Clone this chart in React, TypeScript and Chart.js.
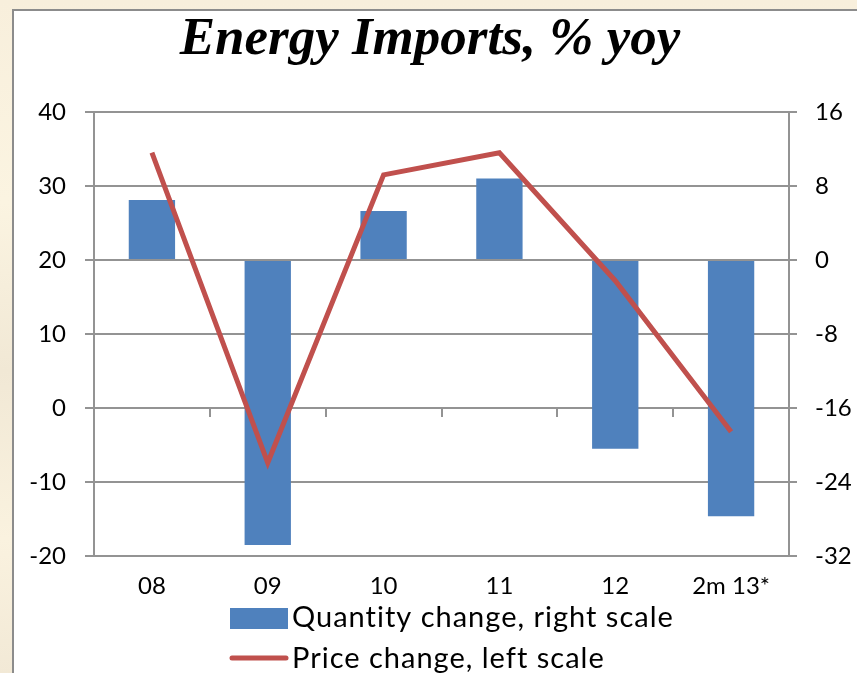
import React, { useEffect, useRef } from "react";
import { Chart, registerables } from "chart.js";

Chart.register(...registerables);

// ---- data ----
const categories = ["08", "09", "10", "11", "12", "2m 13*"];
const quantityChange = [6.5, -30.8, 5.3, 8.8, -20.4, -27.7]; // right scale
const priceChange = [34.5, -7.4, 31.5, 34.5, 17.2, -3.2]; // left scale
const leftTicks = [-20, -10, 0, 10, 20, 30, 40];
const rightTicks = [-32, -24, -16, -8, 0, 8, 16];
const titleText = "Energy Imports, % yoy";
const quantityLabel = "Quantity change, right scale";
const priceLabel = "Price change, left scale";

const BAR_COLOR = "#4F81BD";
const LINE_COLOR = "#C0504D";
const GRID_COLOR = "#939393";
const TICK_FONT = { family: "Lato, 'Open Sans', sans-serif", size: 24 };

const backgroundPlugin = {
  id: "bgPanel",
  beforeDraw(chart: any) {
    const ctx = chart.ctx;
    const w = chart.width;
    const h = chart.height;
    ctx.save();
    const g = ctx.createLinearGradient(0, 0, 0, h);
    g.addColorStop(0, "#F8EFDC");
    g.addColorStop(0.3, "#FBF4E1");
    g.addColorStop(0.55, "#F1E8D5");
    g.addColorStop(0.8, "#FAF2DF");
    g.addColorStop(1, "#F2E9D6");
    ctx.fillStyle = g;
    ctx.fillRect(0, 0, w, h);
    ctx.fillStyle = "#FFFFFF";
    ctx.fillRect(13, 10, w + 20, h + 20);
    ctx.strokeStyle = "#8C8C8C";
    ctx.lineWidth = 2;
    ctx.strokeRect(13, 10, w + 20, h + 20);
    ctx.restore();
  },
};

const zeroTicksPlugin = {
  id: "zeroTicks",
  afterDatasetsDraw(chart: any) {
    const x = chart.scales.x;
    const y = chart.scales.y;
    const ctx = chart.ctx;
    const y0 = y.getPixelForValue(0);
    ctx.save();
    ctx.strokeStyle = GRID_COLOR;
    ctx.lineWidth = 2;
    for (let i = 0; i <= categories.length; i++) {
      const px = Math.round(x.getPixelForValue(i - 0.5));
      ctx.beginPath();
      ctx.moveTo(px, y0);
      ctx.lineTo(px, y0 + 9);
      ctx.stroke();
    }
    ctx.restore();
  },
};

const legendPlugin = {
  id: "customLegend",
  afterDraw(chart: any) {
    const ctx = chart.ctx;
    const ds = chart.data.datasets;
    ctx.save();
    ctx.font = "29px Lato, 'Open Sans', sans-serif";
    try {
      (ctx as any).letterSpacing = "1px";
    } catch (e) {}
    ctx.fillStyle = "#000";
    ctx.textAlign = "left";
    ctx.textBaseline = "alphabetic";
    // bar entry
    ctx.fillStyle = ds[0].backgroundColor;
    ctx.fillRect(230, 608, 58, 21);
    ctx.fillStyle = "#000";
    ctx.fillText(ds[0].label, 292, 627);
    // line entry
    ctx.strokeStyle = ds[1].borderColor;
    ctx.lineWidth = 5;
    ctx.lineCap = "round";
    ctx.beginPath();
    ctx.moveTo(232, 658);
    ctx.lineTo(286, 658);
    ctx.stroke();
    ctx.fillText(ds[1].label, 292, 668);
    ctx.restore();
  },
};

export default function App() {
  const ref = useRef<HTMLCanvasElement | null>(null);

  useEffect(() => {
    if (!ref.current) return;
    const chart = new Chart(ref.current, {
      data: {
        labels: categories,
        datasets: [
          {
            type: "bar",
            label: quantityLabel,
            data: quantityChange,
            backgroundColor: BAR_COLOR,
            borderWidth: 0,
            yAxisID: "y1",
            barPercentage: 0.4,
            categoryPercentage: 1,
            order: 2,
          },
          {
            type: "line",
            label: priceLabel,
            data: priceChange,
            borderColor: LINE_COLOR,
            backgroundColor: LINE_COLOR,
            borderWidth: 5,
            pointRadius: 0,
            tension: 0,
            yAxisID: "y",
            order: 1,
          },
        ],
      } as any,
      options: {
        animation: false,
        responsive: false,
        layout: { padding: { left: 3, right: 0, top: 8, bottom: 0 } },
        plugins: {
          legend: { display: false },
          tooltip: { enabled: false },
          title: {
            display: true,
            text: titleText,
            color: "#000",
            font: {
              family: "'Liberation Serif', 'Times New Roman', serif",
              size: 53,
              style: "italic",
              weight: "bold",
              lineHeight: 1,
            },
            padding: { top: 6, bottom: 45 },
          },
        },
        scales: {
          x: {
            type: "category",
            offset: true,
            grid: { display: false, drawTicks: false },
            border: { display: false },
            ticks: { color: "#000", font: TICK_FONT, padding: 16, maxRotation: 0 },
            afterFit(scale: any) {
              scale.height = 117;
            },
          },
          y: {
            type: "linear",
            position: "left",
            min: -20,
            max: 40,
            afterBuildTicks(scale: any) {
              scale.ticks = leftTicks.map((v) => ({ value: v }));
            },
            grid: { color: GRID_COLOR, lineWidth: 2, tickLength: 9 },
            border: { display: true, color: GRID_COLOR, width: 2 },
            ticks: { color: "#000", font: TICK_FONT, padding: 19 },
            afterFit(scale: any) {
              scale.width = 91;
            },
          },
          y1: {
            type: "linear",
            position: "right",
            min: -32,
            max: 16,
            afterBuildTicks(scale: any) {
              scale.ticks = rightTicks.map((v) => ({ value: v }));
            },
            grid: { drawOnChartArea: false, color: GRID_COLOR, lineWidth: 2, tickLength: 8 },
            border: { display: true, color: GRID_COLOR, width: 2 },
            ticks: { color: "#000", font: TICK_FONT, padding: 18 },
            afterFit(scale: any) {
              scale.width = 68;
            },
          },
        },
      } as any,
      plugins: [backgroundPlugin, zeroTicksPlugin, legendPlugin],
    });
    return () => chart.destroy();
  }, []);

  return (
    <div style={{ position: "absolute", left: 0, top: 0, width: 857, height: 673, overflow: "hidden" }}>
      <canvas ref={ref} width={857} height={673} style={{ display: "block", width: 857, height: 673 }} />
    </div>
  );
}
